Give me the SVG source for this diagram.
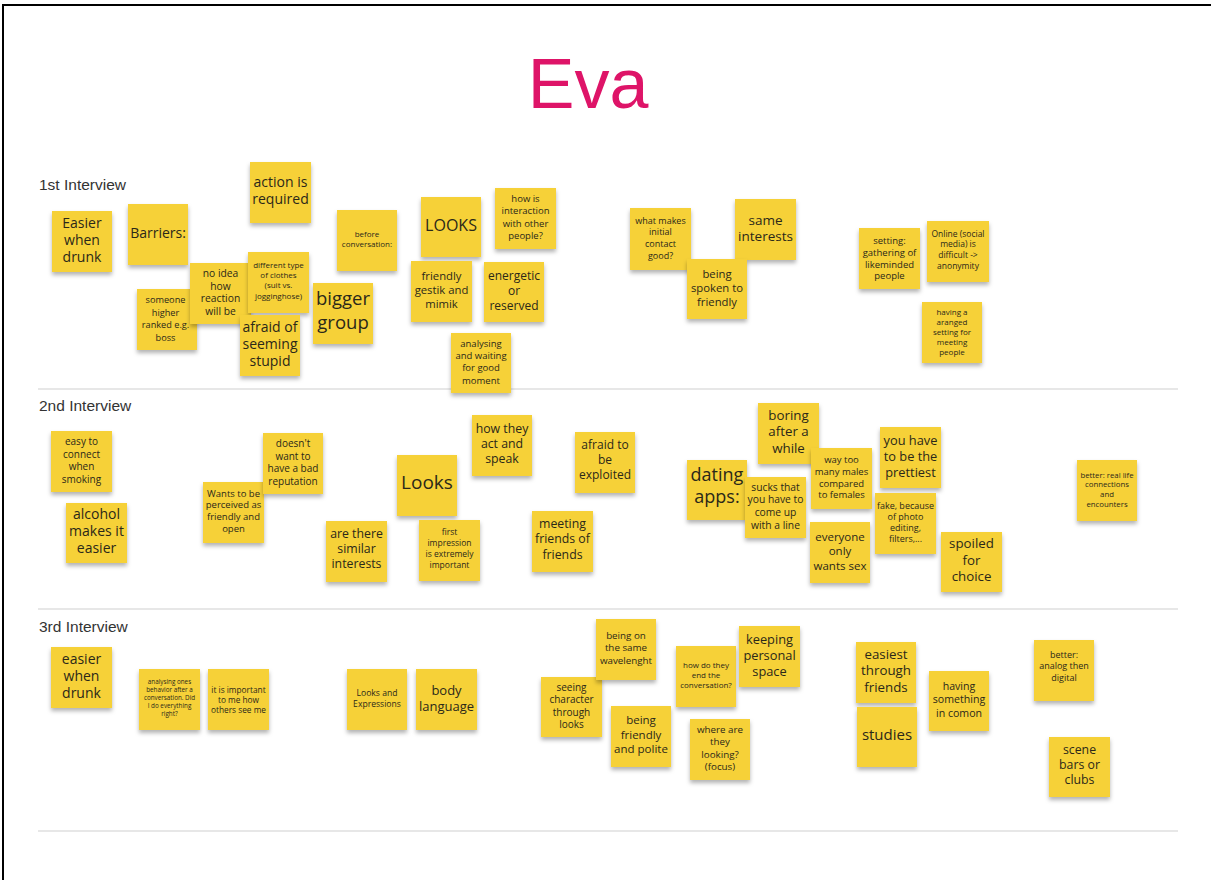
<svg xmlns="http://www.w3.org/2000/svg" width="1211" height="880" viewBox="0 0 1211 880">
<style>
.n{fill:#f6d139;filter:url(#sh)}
.t{font-family:"Open Sans","Noto Sans",sans-serif;fill:#2b2819;text-anchor:middle}
.s{font-family:"Liberation Sans",Arial,sans-serif;font-size:15.5px;fill:#333}
.sep{stroke:#cfcfcf;stroke-width:1.2}
</style>
<defs>
<filter id="sh" x="-20%" y="-20%" width="140%" height="150%">
<feDropShadow dx="0" dy="3" stdDeviation="2" flood-color="#000" flood-opacity="0.3"/>
</filter>
</defs>
<rect width="1211" height="880" fill="#fff"/>
<path d="M3,880 V5 H1211" fill="none" stroke="#000" stroke-width="2"/>
<text x="588" y="108" text-anchor="middle" font-family="Liberation Sans, Arial, sans-serif" font-size="70" fill="#de1468">Eva</text>
<g id="sections">
<text class="s" x="39" y="190">1st Interview</text>
<text class="s" x="39" y="411">2nd Interview</text>
<text class="s" x="39" y="632">3rd Interview</text>
<line class="sep" x1="38" y1="389" x2="1178" y2="389"/>
<line class="sep" x1="38" y1="609" x2="1178" y2="609"/>
<line class="sep" x1="38" y1="831" x2="1178" y2="831"/>
</g>
<g id="connectors"></g>

<!-- 1st interview -->
<g id="a1"><rect class="n" x="52" y="211" width="60" height="61"/><text class="t" x="82" y="228" font-size="14"><tspan x="82">Easier</tspan><tspan x="82" dy="1.2em">when</tspan><tspan x="82" dy="1.2em">drunk</tspan></text></g>
<g id="a2"><rect class="n" x="128" y="204" width="60" height="61"/><text class="t" x="158" y="238" font-size="14"><tspan x="158">Barriers:</tspan></text></g>
<g id="a3"><rect class="n" x="250" y="162" width="61" height="61"/><text class="t" x="280.5" y="187" font-size="14"><tspan x="280.5">action is</tspan><tspan x="280.5" dy="1.2em">required</tspan></text></g>
<g id="a4"><rect class="n" x="137" y="289" width="60" height="61"/><text class="t" x="165.5" y="303" font-size="9.2"><tspan x="165.5">someone</tspan><tspan x="165.5" dy="1.38em">higher</tspan><tspan x="165.5" dy="1.38em">ranked e.g.</tspan><tspan x="165.5" dy="1.38em">boss</tspan></text></g>
<g id="a5"><rect class="n" x="190" y="263" width="61" height="61"/><text class="t" x="220.5" y="277" font-size="10.3"><tspan x="220.5">no idea</tspan><tspan x="220.5" dy="1.22em">how</tspan><tspan x="220.5" dy="1.22em">reaction</tspan><tspan x="220.5" dy="1.22em">will be</tspan></text></g>
<g id="a6"><rect class="n" x="248" y="252" width="61" height="61"/><text class="t" x="278.5" y="267.5" font-size="8"><tspan x="278.5">different type</tspan><tspan x="278.5" dy="1.3em">of clothes</tspan><tspan x="278.5" dy="1.3em">(suit vs.</tspan><tspan x="278.5" dy="1.3em">jogginghose)</tspan></text></g>
<g id="a7"><rect class="n" x="240" y="315" width="60" height="61"/><text class="t" x="270" y="332" font-size="14"><tspan x="270">afraid of</tspan><tspan x="270" dy="1.2em">seeming</tspan><tspan x="270" dy="1.2em">stupid</tspan></text></g>
<g id="a8"><rect class="n" x="337" y="210" width="60" height="61"/><text class="t" x="367" y="236.5" font-size="8"><tspan x="367">before</tspan><tspan x="367" dy="1.3em">conversation:</tspan></text></g>
<g id="a9"><rect class="n" x="313" y="283" width="60" height="61"/><text class="t" x="343" y="305" font-size="18.5"><tspan x="343">bigger</tspan><tspan x="343" dy="1.3em">group</tspan></text></g>
<g id="a10"><rect class="n" x="421" y="197" width="60" height="60"/><text class="t" x="451" y="231" font-size="16"><tspan x="451">LOOKS</tspan></text></g>
<g id="a11"><rect class="n" x="495" y="188" width="61" height="61"/><text class="t" x="525.5" y="202" font-size="9.5"><tspan x="525.5">how is</tspan><tspan x="525.5" dy="1.3em">interaction</tspan><tspan x="525.5" dy="1.3em">with other</tspan><tspan x="525.5" dy="1.3em">people?</tspan></text></g>
<g id="a12"><rect class="n" x="411" y="261" width="61" height="61"/><text class="t" x="441.5" y="279.5" font-size="11.3"><tspan x="441.5">friendly</tspan><tspan x="441.5" dy="1.26em">gestik and</tspan><tspan x="441.5" dy="1.26em">mimik</tspan></text></g>
<g id="a13"><rect class="n" x="484" y="262" width="60" height="60"/><text class="t" x="514" y="280" font-size="12"><tspan x="514">energetic</tspan><tspan x="514" dy="1.25em">or</tspan><tspan x="514" dy="1.25em">reserved</tspan></text></g>
<g id="a14"><rect class="n" x="451" y="333" width="60" height="60"/><text class="t" x="481" y="346.5" font-size="9.5"><tspan x="481">analysing</tspan><tspan x="481" dy="1.3em">and waiting</tspan><tspan x="481" dy="1.3em">for good</tspan><tspan x="481" dy="1.3em">moment</tspan></text></g>
<g id="a15"><rect class="n" x="630" y="208" width="61" height="62"/><text class="t" x="660.5" y="223.5" font-size="9"><tspan x="660.5">what makes</tspan><tspan x="660.5" dy="1.3em">initial</tspan><tspan x="660.5" dy="1.3em">contact</tspan><tspan x="660.5" dy="1.3em">good?</tspan></text></g>
<g id="a16"><rect class="n" x="735" y="199" width="61" height="61"/><text class="t" x="765.5" y="224.5" font-size="13.5"><tspan x="765.5">same</tspan><tspan x="765.5" dy="1.22em">interests</tspan></text></g>
<g id="a17"><rect class="n" x="687" y="259" width="60" height="60"/><text class="t" x="717" y="277.5" font-size="11.3"><tspan x="717">being</tspan><tspan x="717" dy="1.26em">spoken to</tspan><tspan x="717" dy="1.26em">friendly</tspan></text></g>
<g id="a18"><rect class="n" x="859" y="228" width="61" height="61"/><text class="t" x="889.5" y="244" font-size="9.5"><tspan x="889.5">setting:</tspan><tspan x="889.5" dy="1.24em">gathering of</tspan><tspan x="889.5" dy="1.24em">likeminded</tspan><tspan x="889.5" dy="1.24em">people</tspan></text></g>
<g id="a19"><rect class="n" x="927" y="221" width="62" height="61"/><text class="t" x="958" y="236.5" font-size="8.5"><tspan x="958">Online (social</tspan><tspan x="958" dy="1.28em">media) is</tspan><tspan x="958" dy="1.28em">difficult -&gt;</tspan><tspan x="958" dy="1.28em">anonymity</tspan></text></g>
<g id="a20"><rect class="n" x="922" y="302" width="60" height="61"/><text class="t" x="952" y="314.5" font-size="8"><tspan x="952">having a</tspan><tspan x="952" dy="1.25em">aranged</tspan><tspan x="952" dy="1.25em">setting for</tspan><tspan x="952" dy="1.25em">meeting</tspan><tspan x="952" dy="1.25em">people</tspan></text></g>

<!-- 2nd interview -->
<g id="b1"><rect class="n" x="51" y="431" width="61" height="61"/><text class="t" x="81.5" y="445" font-size="10"><tspan x="81.5">easy to</tspan><tspan x="81.5" dy="1.25em">connect</tspan><tspan x="81.5" dy="1.25em">when</tspan><tspan x="81.5" dy="1.25em">smoking</tspan></text></g>
<g id="b2"><rect class="n" x="66" y="503" width="61" height="60"/><text class="t" x="96.5" y="519" font-size="14"><tspan x="96.5">alcohol</tspan><tspan x="96.5" dy="1.2em">makes it</tspan><tspan x="96.5" dy="1.2em">easier</tspan></text></g>
<g id="b3"><rect class="n" x="203" y="482" width="61" height="61"/><text class="t" x="233.5" y="496.5" font-size="9.5"><tspan x="233.5">Wants to be</tspan><tspan x="233.5" dy="1.24em">perceived as</tspan><tspan x="233.5" dy="1.24em">friendly and</tspan><tspan x="233.5" dy="1.24em">open</tspan></text></g>
<g id="b4"><rect class="n" x="263" y="433" width="60" height="61"/><text class="t" x="293" y="447" font-size="10"><tspan x="293">doesn't</tspan><tspan x="293" dy="1.25em">want to</tspan><tspan x="293" dy="1.25em">have a bad</tspan><tspan x="293" dy="1.25em">reputation</tspan></text></g>
<g id="b5"><rect class="n" x="326" y="521" width="61" height="61"/><text class="t" x="356.5" y="537.5" font-size="12.3"><tspan x="356.5">are there</tspan><tspan x="356.5" dy="1.24em">similar</tspan><tspan x="356.5" dy="1.24em">interests</tspan></text></g>
<g id="b6"><rect class="n" x="397" y="455" width="60" height="61"/><text class="t" x="427" y="489" font-size="19"><tspan x="427">Looks</tspan></text></g>
<g id="b7"><rect class="n" x="419" y="520" width="61" height="61"/><text class="t" x="449.5" y="534.5" font-size="8.5"><tspan x="449.5">first</tspan><tspan x="449.5" dy="1.3em">impression</tspan><tspan x="449.5" dy="1.3em">is extremely</tspan><tspan x="449.5" dy="1.3em">important</tspan></text></g>
<g id="b8"><rect class="n" x="472" y="415" width="60" height="61"/><text class="t" x="502" y="432.5" font-size="12.3"><tspan x="502">how they</tspan><tspan x="502" dy="1.26em">act and</tspan><tspan x="502" dy="1.26em">speak</tspan></text></g>
<g id="b9"><rect class="n" x="575" y="432" width="60" height="61"/><text class="t" x="605" y="449" font-size="12"><tspan x="605">afraid to</tspan><tspan x="605" dy="1.25em">be</tspan><tspan x="605" dy="1.25em">exploited</tspan></text></g>
<g id="b10"><rect class="n" x="532" y="511" width="61" height="61"/><text class="t" x="562.5" y="528" font-size="12.3"><tspan x="562.5">meeting</tspan><tspan x="562.5" dy="1.24em">friends of</tspan><tspan x="562.5" dy="1.24em">friends</tspan></text></g>
<g id="b11"><rect class="n" x="687" y="460" width="60" height="60"/><text class="t" x="717" y="481" font-size="18"><tspan x="717">dating</tspan><tspan x="717" dy="1.24em">apps:</tspan></text></g>
<g id="b12"><rect class="n" x="758" y="403" width="61" height="61"/><text class="t" x="788.5" y="419.5" font-size="13.3"><tspan x="788.5">boring</tspan><tspan x="788.5" dy="1.25em">after a</tspan><tspan x="788.5" dy="1.25em">while</tspan></text></g>
<g id="b14"><rect class="n" x="811" y="448" width="61" height="61"/><text class="t" x="841.5" y="463" font-size="9.5"><tspan x="841.5">way too</tspan><tspan x="841.5" dy="1.24em">many males</tspan><tspan x="841.5" dy="1.24em">compared</tspan><tspan x="841.5" dy="1.24em">to females</tspan></text></g>
<g id="b13"><rect class="n" x="745" y="477" width="61" height="61"/><text class="t" x="775.5" y="490.5" font-size="10.3"><tspan x="775.5">sucks that</tspan><tspan x="775.5" dy="1.24em">you have to</tspan><tspan x="775.5" dy="1.24em">come up</tspan><tspan x="775.5" dy="1.24em">with a line</tspan></text></g>
<g id="b15"><rect class="n" x="810" y="522" width="60" height="61"/><text class="t" x="840" y="540.5" font-size="11.5"><tspan x="840">everyone</tspan><tspan x="840" dy="1.27em">only</tspan><tspan x="840" dy="1.27em">wants sex</tspan></text></g>
<g id="b16"><rect class="n" x="880" y="427" width="61" height="61"/><text class="t" x="910.5" y="445" font-size="12.8"><tspan x="910.5">you have</tspan><tspan x="910.5" dy="1.26em">to be the</tspan><tspan x="910.5" dy="1.26em">prettiest</tspan></text></g>
<g id="b17"><rect class="n" x="875" y="493" width="61" height="61"/><text class="t" x="905.5" y="509" font-size="9"><tspan x="905.5">fake, because</tspan><tspan x="905.5" dy="1.24em">of photo</tspan><tspan x="905.5" dy="1.24em">editing,</tspan><tspan x="905.5" dy="1.24em">filters,...</tspan></text></g>
<g id="b18"><rect class="n" x="941" y="532" width="61" height="60"/><text class="t" x="971.5" y="548" font-size="13.3"><tspan x="971.5">spoiled</tspan><tspan x="971.5" dy="1.25em">for</tspan><tspan x="971.5" dy="1.25em">choice</tspan></text></g>
<g id="b19"><rect class="n" x="1077" y="460" width="60" height="61"/><text class="t" x="1107" y="477.5" font-size="7.8"><tspan x="1107">better: real life</tspan><tspan x="1107" dy="1.25em">connections</tspan><tspan x="1107" dy="1.25em">and</tspan><tspan x="1107" dy="1.25em">encounters</tspan></text></g>

<!-- 3rd interview -->
<g id="c1"><rect class="n" x="51" y="647" width="61" height="61"/><text class="t" x="81.5" y="664" font-size="14"><tspan x="81.5">easier</tspan><tspan x="81.5" dy="1.2em">when</tspan><tspan x="81.5" dy="1.2em">drunk</tspan></text></g>
<g id="c2"><rect class="n" x="139" y="669" width="61" height="61"/><text class="t" x="169.5" y="684" font-size="6.3"><tspan x="169.5">analysing ones</tspan><tspan x="169.5" dy="1.25em">behavior after a</tspan><tspan x="169.5" dy="1.25em">conversation. Did</tspan><tspan x="169.5" dy="1.25em">I do everything</tspan><tspan x="169.5" dy="1.25em">right?</tspan></text></g>
<g id="c3"><rect class="n" x="208" y="669" width="61" height="61"/><text class="t" x="238.5" y="692.5" font-size="8.3"><tspan x="238.5">it is important</tspan><tspan x="238.5" dy="1.24em">to me how</tspan><tspan x="238.5" dy="1.24em">others see me</tspan></text></g>
<g id="c4"><rect class="n" x="347" y="669" width="60" height="61"/><text class="t" x="377" y="695.5" font-size="8.6"><tspan x="377">Looks and</tspan><tspan x="377" dy="1.35em">Expressions</tspan></text></g>
<g id="c5"><rect class="n" x="416" y="669" width="61" height="61"/><text class="t" x="446.5" y="694.5" font-size="13"><tspan x="446.5">body</tspan><tspan x="446.5" dy="1.24em">language</tspan></text></g>
<g id="c6"><rect class="n" x="541" y="677" width="61" height="60"/><text class="t" x="571.5" y="690.5" font-size="10"><tspan x="571.5">seeing</tspan><tspan x="571.5" dy="1.25em">character</tspan><tspan x="571.5" dy="1.25em">through</tspan><tspan x="571.5" dy="1.25em">looks</tspan></text></g>
<g id="c7"><rect class="n" x="596" y="619" width="60" height="61"/><text class="t" x="626" y="638.5" font-size="9.8"><tspan x="626">being on</tspan><tspan x="626" dy="1.28em">the same</tspan><tspan x="626" dy="1.28em">wavelenght</tspan></text></g>
<g id="c8"><rect class="n" x="676" y="646" width="60" height="61"/><text class="t" x="706" y="667.5" font-size="8"><tspan x="706">how do they</tspan><tspan x="706" dy="1.3em">end the</tspan><tspan x="706" dy="1.3em">conversation?</tspan></text></g>
<g id="c9"><rect class="n" x="739" y="626" width="61" height="61"/><text class="t" x="769.5" y="643.5" font-size="12.8"><tspan x="769.5">keeping</tspan><tspan x="769.5" dy="1.26em">personal</tspan><tspan x="769.5" dy="1.26em">space</tspan></text></g>
<g id="c10"><rect class="n" x="611" y="706" width="60" height="61"/><text class="t" x="641" y="724" font-size="11.5"><tspan x="641">being</tspan><tspan x="641" dy="1.27em">friendly</tspan><tspan x="641" dy="1.27em">and polite</tspan></text></g>
<g id="c11"><rect class="n" x="690" y="719" width="60" height="61"/><text class="t" x="720" y="732.5" font-size="9.8"><tspan x="720">where are</tspan><tspan x="720" dy="1.28em">they</tspan><tspan x="720" dy="1.28em">looking?</tspan><tspan x="720" dy="1.28em">(focus)</tspan></text></g>
<g id="c12"><rect class="n" x="856" y="642" width="60" height="61"/><text class="t" x="886" y="658.5" font-size="13.3"><tspan x="886">easiest</tspan><tspan x="886" dy="1.25em">through</tspan><tspan x="886" dy="1.25em">friends</tspan></text></g>
<g id="c13"><rect class="n" x="857" y="707" width="60" height="60"/><text class="t" x="887" y="740" font-size="15"><tspan x="887">studies</tspan></text></g>
<g id="c14"><rect class="n" x="929" y="671" width="60" height="60"/><text class="t" x="959" y="690" font-size="10.6"><tspan x="959">having</tspan><tspan x="959" dy="1.25em">something</tspan><tspan x="959" dy="1.25em">in comon</tspan></text></g>
<g id="c15"><rect class="n" x="1034" y="640" width="60" height="61"/><text class="t" x="1064" y="658" font-size="9"><tspan x="1064">better:</tspan><tspan x="1064" dy="1.25em">analog then</tspan><tspan x="1064" dy="1.25em">digital</tspan></text></g>
<g id="c16"><rect class="n" x="1049" y="737" width="61" height="60"/><text class="t" x="1079.5" y="753.5" font-size="12.3"><tspan x="1079.5">scene</tspan><tspan x="1079.5" dy="1.24em">bars or</tspan><tspan x="1079.5" dy="1.24em">clubs</tspan></text></g>
</svg>
